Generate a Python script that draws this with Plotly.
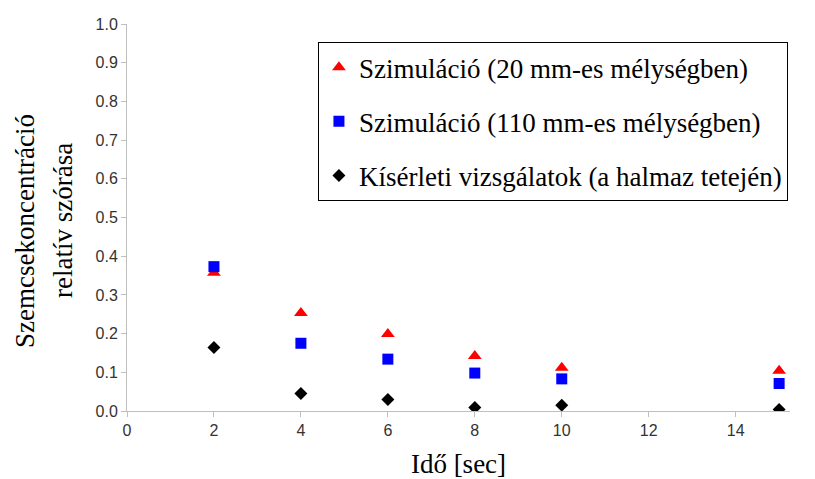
import plotly.graph_objects as go

x_vals = [2, 4, 6, 8, 10, 15]
sim_20mm = [0.357, 0.253, 0.199, 0.142, 0.112, 0.104]
sim_110mm = [0.373, 0.175, 0.134, 0.098, 0.083, 0.071]
kiserlet = [0.164, 0.045, 0.030, 0.009, 0.015, 0.004]

names = ["Szimuláció (20 mm-es mélységben)",
         "Szimuláció (110 mm-es mélységben)",
         "Kísérleti vizsgálatok (a halmaz tetején)"]
y_title_lines = ["Szemcsekoncentráció", "relatív szórása"]

fig = go.Figure()
fig.add_trace(go.Scatter(x=x_vals, y=sim_20mm, mode="markers", name=names[0],
                         legendgroup="a",
                         marker=dict(symbol="triangle-up", size=12, color="#ff0000")))
fig.add_trace(go.Scatter(x=x_vals, y=sim_110mm, mode="markers", name=names[1],
                         legendgroup="b",
                         marker=dict(symbol="square", size=11, color="#0000ff")))
fig.add_trace(go.Scatter(x=x_vals, y=kiserlet, mode="markers", name=names[2],
                         legendgroup="c",
                         marker=dict(symbol="diamond", size=10, color="#000000")))

title_font = dict(family="Liberation Serif", size=27, color="black")
fig.add_annotation(text=y_title_lines[0], xref="paper", yref="paper",
                   x=-0.155, y=0.466, textangle=-90, showarrow=False,
                   xanchor="center", yanchor="middle", font=title_font)
fig.add_annotation(text=y_title_lines[1], xref="paper", yref="paper",
                   x=-0.0965, y=0.491, textangle=-90, showarrow=False,
                   xanchor="center", yanchor="middle", font=title_font)

fig.update_layout(
    width=815, height=479,
    margin=dict(l=127, r=25, t=24, b=68),
    paper_bgcolor="white", plot_bgcolor="white",
    showlegend=True,
    legend=dict(x=0.288, y=0.953, xanchor="left", yanchor="top",
                bordercolor="black", borderwidth=1, bgcolor="white",
                font=dict(family="Liberation Serif", size=27, color="black"),
                tracegroupgap=16, itemsizing="trace"),
    xaxis=dict(range=[0, 15.25], tickvals=[0, 2, 4, 6, 8, 10, 12, 14],
               showline=True, linecolor="#bfbfbf", linewidth=1,
               ticks="outside", ticklen=5, tickcolor="#bfbfbf",
               showgrid=False, zeroline=False, automargin=False,
               tickfont=dict(family="Liberation Sans", size=16, color="#333333"),
               title=dict(text="Idő [sec]", standoff=20, font=title_font)),
    yaxis=dict(range=[0, 1.0], tickvals=[i / 10 for i in range(11)],
               tickformat=".1f", automargin=False,
               showline=True, linecolor="#bfbfbf", linewidth=1,
               ticks="outside", ticklen=5, tickcolor="#bfbfbf",
               showgrid=False, zeroline=False,
               tickfont=dict(family="Liberation Sans", size=16, color="#333333")),
)

fig.write_html("out.html")
